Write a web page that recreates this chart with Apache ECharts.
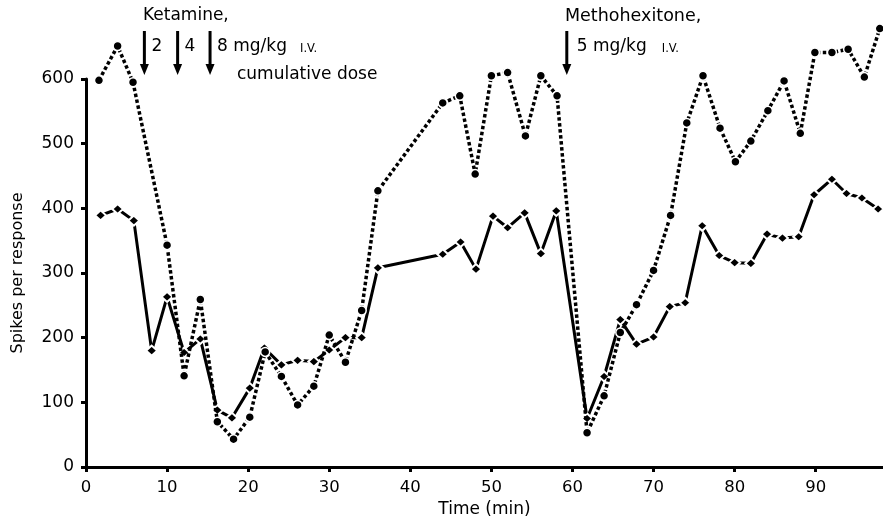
<!DOCTYPE html>
<html><head><meta charset="utf-8">
<script src="https://cdn.jsdelivr.net/npm/echarts@6/dist/echarts.min.js"></script>
<style>html,body{margin:0;padding:0;background:#fff}#c{width:883px;height:523px}</style>
</head><body><div id="c"></div>
<script>
// Dotted series (circles)
const circleTime = [1.6, 3.9, 5.8, 10, 12.1, 14.1, 16.2, 18.2, 20.2, 22.1, 24.1, 26.1, 28.1, 30, 32, 34, 36, 44, 46.1, 48, 50, 52, 54.2, 56.1, 58.1, 61.8, 63.9, 65.9, 67.9, 70, 72.1, 74.1, 76.1, 78.2, 80.1, 82, 84.1, 86.1, 88.1, 89.9, 92, 94, 96, 97.9];
const circleVal = [598, 651, 595, 343, 141, 259, 70, 43, 77, 178, 140, 96, 125, 204, 162, 242, 427, 563, 574, 453, 605, 610, 512, 605, 574, 53, 110, 208, 251, 304, 389, 532, 605, 524, 472, 504, 551, 597, 516, 641, 641, 646, 603, 678];
// Solid series (diamonds)
const diamondTime = [1.8, 3.9, 5.9, 8.1, 10, 12.1, 14.1, 16.2, 18, 20.2, 22, 24.1, 26.1, 28.1, 30, 32, 34, 36, 44, 46.2, 48.1, 50.2, 52, 54.1, 56.1, 58, 61.8, 63.9, 65.9, 67.9, 70, 72, 73.9, 76, 78.1, 80, 82, 84, 85.9, 87.9, 89.8, 92, 93.8, 95.7, 97.7];
const diamondVal = [389, 399, 381, 180, 263, 177, 198, 88, 76, 122, 184, 158, 165, 163, 181, 200, 200, 308, 329, 348, 306, 388, 370, 393, 330, 396, 75, 140, 228, 190, 201, 248, 254, 373, 327, 316, 315, 360, 354, 356, 421, 445, 423, 416, 399];
// Tick labels
const xTicks = [0, 10, 20, 30, 40, 50, 60, 70, 80, 90];
const yTicks = [0, 100, 200, 300, 400, 500, 600];
// Drug administration times (min)
const ketamineTimes = [7.2, 11.3, 15.3];
const ketamineDoses = ['2', '4', '8 mg/kg'];
const methoTimes = [59.3];

const FONT = "'DejaVu Sans', 'Open Sans', sans-serif";
const chart = echarts.init(document.getElementById('c'), null, {renderer: 'canvas'});

const pair = (ts, vs) => ts.map((t, i) => [t, vs[i]]);

chart.setOption({
  animation: false,
  backgroundColor: '#fff',
  grid: {left: 86, right: 0, top: 79, bottom: 56, containLabel: false},
  xAxis: {
    type: 'value', min: 0, max: 98.3,
    name: 'Time (min)', nameLocation: 'middle', nameGap: 30,
    nameTextStyle: {fontFamily: FONT, fontSize: 17, color: '#000'},
    axisLine: {show: true, onZero: false, lineStyle: {color: '#000', width: 3}},
    axisTick: {show: true, length: 5, inside: false, lineStyle: {color: '#000', width: 3}, customValues: xTicks},
    axisLabel: {color: '#000', fontFamily: FONT, fontSize: 16.5, margin: 12, customValues: xTicks},
    splitLine: {show: false}
  },
  yAxis: {
    type: 'value', min: 0, max: 600, interval: 100,
    name: 'Spikes per response', nameLocation: 'middle', nameGap: 60, nameRotate: 90,
    nameTextStyle: {fontFamily: FONT, fontSize: 16, color: '#000'},
    axisLine: {show: true, lineStyle: {color: '#000', width: 3}},
    axisTick: {show: true, length: 5, lineStyle: {color: '#000', width: 3}, customValues: yTicks},
    axisLabel: {color: '#000', fontFamily: FONT, fontSize: 17, margin: 12, customValues: yTicks},
    splitLine: {show: false}
  },
  series: [
    {
      type: 'line', clip: false, data: pair(circleTime, circleVal),
      symbol: 'circle', symbolSize: 9,
      itemStyle: {color: '#000', borderColor: '#fff', borderWidth: 1.5},
      lineStyle: {color: '#000', width: 3.5, type: [3.5, 2.5], cap: 'butt'},
      z: 3
    },
    {
      type: 'line', clip: false, data: pair(diamondTime, diamondVal),
      symbol: 'diamond', symbolSize: [11, 10],
      itemStyle: {color: '#000', borderColor: '#fff', borderWidth: 2},
      lineStyle: {color: '#000', width: 3},
      z: 2
    }
  ]
});

function arrowAt(t) {
  const x = chart.convertToPixel({xAxisIndex: 0}, t);
  return [
    {type: 'line', shape: {x1: x, y1: 31, x2: x, y2: 66}, style: {stroke: '#000', lineWidth: 3}},
    {type: 'polygon', shape: {points: [[x - 4.5, 64], [x + 4.5, 64], [x, 75]]}, style: {fill: '#000'}}
  ];
}
const g = [];
const txt = (x, y, s, size) => ({type: 'text', x: x, y: y, style: {text: s, fill: '#000', font: size + 'px ' + FONT, textVerticalAlign: 'middle'}});
ketamineTimes.forEach((t, i) => {
  arrowAt(t).forEach(e => g.push(e));
  const x = chart.convertToPixel({xAxisIndex: 0}, t);
  g.push(txt(x + 7, 47, ketamineDoses[i], 17));
});
const k8 = chart.convertToPixel({xAxisIndex: 0}, ketamineTimes[2]);
g.push(txt(k8 + 90, 49, 'I.V.', 11.5));
g.push(txt(143, 16, 'Ketamine,', 17));
g.push(txt(237, 75, 'cumulative dose', 17));
methoTimes.forEach(t => {
  arrowAt(t).forEach(e => g.push(e));
  const x = chart.convertToPixel({xAxisIndex: 0}, t);
  g.push(txt(x + 10, 47, '5 mg/kg', 17));
  g.push(txt(x + 95, 49, 'I.V.', 11.5));
});
g.push(txt(565, 16, 'Methohexitone,', 17.5));
chart.setOption({graphic: g});
</script></body></html>
